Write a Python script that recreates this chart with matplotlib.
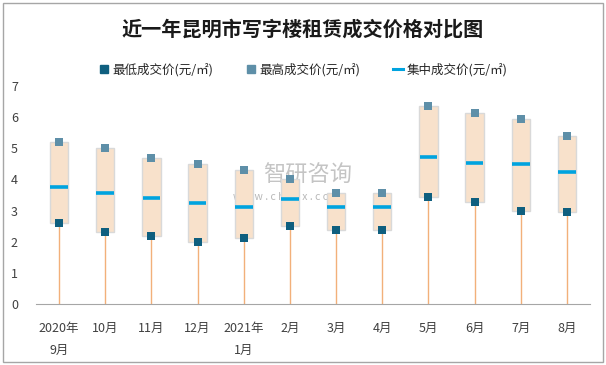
import matplotlib
matplotlib.use('Agg')
import matplotlib.pyplot as plt
from matplotlib.lines import Line2D
from matplotlib.patches import Rectangle

plt.rcParams['font.family'] = ['Noto Sans CJK SC', 'DejaVu Sans']

# data
months = ['2020年\n9月', '10月', '11月', '12月', '2021年\n1月', '2月', '3月', '4月', '5月', '6月', '7月', '8月']
low_price = [2.6, 2.3, 2.17, 1.98, 2.11, 2.49, 2.39, 2.39, 3.45, 3.26, 3.0, 2.94]
high_price = [5.2, 5.0, 4.7, 4.51, 4.3, 4.0, 3.58, 3.58, 6.35, 6.14, 5.95, 5.41]
mid_price = [3.77, 3.55, 3.39, 3.23, 3.13, 3.36, 3.13, 3.13, 4.73, 4.54, 4.48, 4.25]

low_color = '#0F5F7F'
high_color = '#5E8FA8'
mid_color = '#00A3DF'
box_color = '#F8E1CB'
stem_color = '#F2B07A'

fig = plt.figure(figsize=(6.06, 3.65), dpi=100)
ax = fig.add_axes([36 / 606, 61 / 365, 554 / 606, 218 / 365])

# faint watermark, behind the marks
ax.text(0.41, 0.59, '智研咨询', transform=ax.transAxes, fontsize=16, color='#B0B0B0',
        alpha=0.75, ha='left', va='center', zorder=0)
ax.text(0.355, 0.49, 'w w w . c h y x x . c o m', transform=ax.transAxes, fontsize=7.5,
        color='#A0A0A0', alpha=0.75, ha='left', va='center', zorder=0)

x = list(range(len(months)))
heights = [h - l for h, l in zip(high_price, low_price)]
ax.bar(x, heights, bottom=low_price, width=0.4, color=box_color,
       edgecolor='#D9D9D9', linewidth=1, zorder=2)
ax.vlines(x, 0, low_price, color=stem_color, linewidth=1, zorder=1)
ax.hlines(mid_price, [i - 0.19 for i in x], [i + 0.19 for i in x],
          color=mid_color, linewidth=2.6, zorder=3)
ax.scatter(x, low_price, marker='s', s=34, color=low_color, zorder=4, linewidths=0)
ax.scatter(x, high_price, marker='s', s=34, color=high_color, zorder=4, linewidths=0)

ax.set_xlim(-0.5, len(months) - 0.5)
ax.set_ylim(0, 7)
ax.set_yticks(range(0, 8))
ax.set_xticks(x)
ax.set_xticklabels(months, linespacing=1.9)
ax.tick_params(axis='both', length=0, labelsize=9, colors='#404040')
ax.tick_params(axis='y', pad=13)
ax.tick_params(axis='x', pad=13)
for s in ['top', 'right', 'left']:
    ax.spines[s].set_visible(False)
ax.spines['bottom'].set_color('#A6A6A6')

fig.text(0.5, 1 - 29 / 365, '近一年昆明市写字楼租赁成交价格对比图', fontsize=14.5,
         fontweight='bold', ha='center', va='center', color='#1A1A1A')

handles = [
    Line2D([], [], marker='s', linestyle='none', color=low_color, markersize=6),
    Line2D([], [], marker='s', linestyle='none', color=high_color, markersize=6),
    Line2D([], [], color=mid_color, linewidth=2.2),
]
labels = ['最低成交价(元/㎡)', '最高成交价(元/㎡)', '集中成交价(元/㎡)']
fig.legend(handles, labels, loc='center', bbox_to_anchor=(0.5, 1 - 70 / 365), ncol=3,
           frameon=False, fontsize=9, handlelength=0.8, handletextpad=0.3,
           columnspacing=2.6, labelcolor='#262626')

fig.patches.append(Rectangle((3 / 606, 3 / 365), 600 / 606, 359 / 365, transform=fig.transFigure,
                             fill=False, edgecolor='#A6A6A6', linewidth=1))

fig.savefig('out.png', dpi=100)
